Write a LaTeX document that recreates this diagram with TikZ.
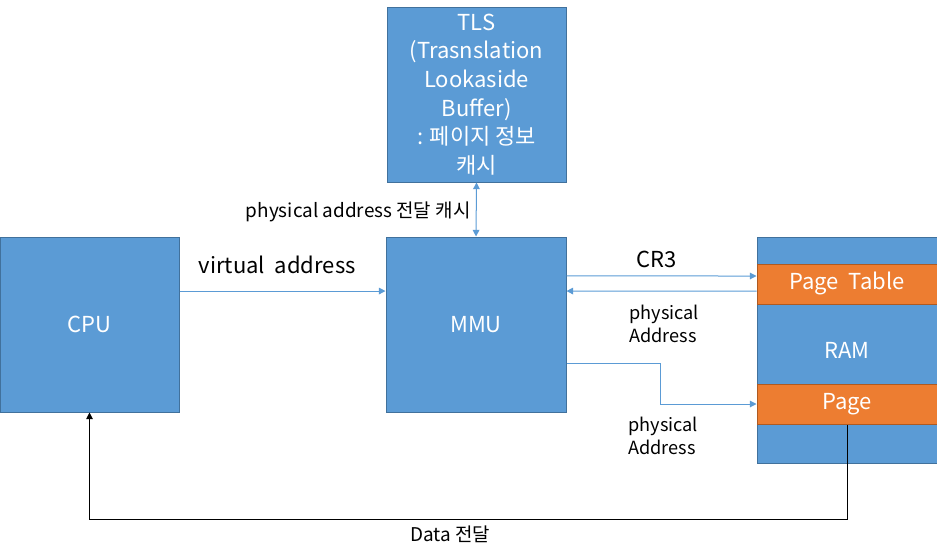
\documentclass[tikz,border=0pt]{standalone}
\usepackage{fontspec}
\setmainfont{Noto Sans CJK KR}
\usetikzlibrary{arrows.meta}
\definecolor{boxblue}{HTML}{5B9BD5}
\definecolor{boxline}{HTML}{41719C}
\definecolor{boxorange}{HTML}{ED7D31}
\definecolor{orangeline}{HTML}{AE5A21}

\begin{document}
\begin{tikzpicture}[x=0.75pt, y=-0.75pt,
    block/.style={draw=boxline, fill=boxblue, text=white, line width=0.75pt,
        inner sep=0pt, align=center, font=\fontsize{16.5}{21.5}\selectfont},
    slot/.style={draw=orangeline, fill=boxorange, text=white, line width=0.75pt,
        inner sep=0pt, minimum width=135pt, minimum height=30pt,
        text height=0.98em, text depth=0.12em,
        font=\fontsize{16.5}{18}\selectfont},
    flow/.style={draw=boxblue, line width=0.75pt, -{Triangle[width=5pt,length=5pt]}},
    big/.style={font=\fontsize{16.5}{20}\selectfont},
    small/.style={font=\fontsize{13.6}{17}\selectfont, align=left, inner sep=0pt},
    tiny/.style={font=\fontsize{14.2}{17}\selectfont, inner sep=0pt}]
    \useasboundingbox (0,0) rectangle (937,557);
    % boxes
    \node[block, minimum width=134.25pt, minimum height=131.25pt] (tls) at (476.5,94.5)
        {TLS\\(Trasnslation\\Lookaside\\Buffer)\\: 페이지 정보\\캐시};
    \node[block, minimum width=134.25pt, minimum height=131.25pt] (cpu) at (89.5,324.5) {CPU};
    \node[block, minimum width=135pt, minimum height=131.25pt] (mmu) at (476,324.5) {MMU};
    \node[block, minimum width=135pt, minimum height=169.5pt] (ram) at (847,350) {RAM};
    \node[slot] (ptable) at (847,284) {Page\ \ Table};
    \node[slot] (page) at (847,404) {Page};
    % arrows
    \draw[flow] ([yshift=25.1pt]cpu.east) -- ([yshift=25.1pt]mmu.west)
        node[midway, yshift=19.5pt, xshift=-4pt, big] {virtual\ \ address};
    \draw[flow, {Triangle[width=5pt,length=5pt]}-{Triangle[width=5pt,length=5pt]}] (tls.south) -- (mmu.north)
        node[midway, left=4pt, yshift=-2pt, tiny] {physical address 전달 캐시};
    \draw[flow] ([yshift=36.4pt]mmu.east) -- ([yshift=6pt]ptable.west)
        node[midway, yshift=12.75pt, xshift=-4pt, big] {CR3};
    \draw[flow] ([yshift=-5.25pt]ptable.west) -- ([yshift=25.1pt]mmu.east)
        node[midway, yshift=-24.75pt, xshift=2pt, small] {physical\\Address};
    \draw[flow] ([yshift=-29.6pt]mmu.east) -- ++(94,0) |- (page.west)
        node[pos=0.5, yshift=-24pt, xshift=2pt, small] {physical\\Address};
    \draw[black, line width=0.75pt, -{Triangle[width=5pt,length=5pt]}] (page.south) -- ++(0,95) -| (cpu.south)
        node[pos=0.25, yshift=-11.25pt, xshift=-13.5pt, tiny] {Data 전달};
\end{tikzpicture}
\end{document}
